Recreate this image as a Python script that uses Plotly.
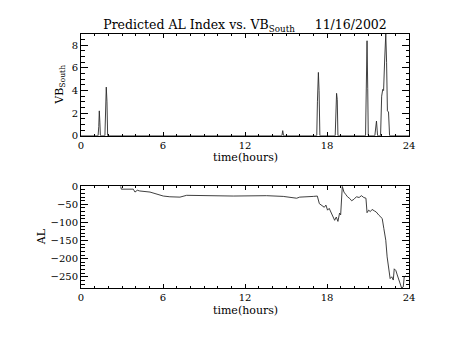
import plotly.graph_objects as go
from plotly.subplots import make_subplots

# Top panel: VB_South (time in hours)
vb_time = [0.0, 1.25, 1.30, 1.34, 1.38, 1.42, 1.75, 1.80, 1.85, 1.90, 1.95,
           14.70, 14.76, 14.82, 17.25, 17.30, 17.37, 17.42, 17.48,
           18.60, 18.65, 18.70, 18.75, 18.80, 20.82, 20.87, 20.93, 20.98, 21.02,
           21.50, 21.55, 21.62, 21.67, 21.70, 21.92, 22.00, 22.08, 22.14, 22.22,
           22.30, 22.36, 22.42, 22.50, 22.58, 24.0]
vb_south = [0, 0, 0.8, 2.2, 1.2, 0, 0, 2.4, 4.3, 3.0, 0,
            0, 0.45, 0, 0, 3.0, 5.6, 4.0, 0,
            0, 2.0, 3.75, 3.2, 0, 0, 6.3, 8.4, 4.2, 0,
            0, 0.7, 1.3, 0.5, 0, 0, 3.5, 4.1, 4.0, 6.7,
            9.0, 6.5, 2.2, 2.1, 0, 0]

# Bottom panel: predicted AL index
al_time = [2.90, 2.95, 3.83, 3.95, 4.12, 4.30, 5.05, 6.02, 6.50, 7.24, 7.73,
           8.70, 11.14, 13.58, 14.80, 15.78, 16.00, 17.00, 17.29, 17.44,
           17.56, 17.68, 17.80, 17.92, 18.04, 18.16, 18.28, 18.56, 18.68,
           18.80, 18.92, 19.00, 19.12, 19.24, 19.36, 19.50, 19.67, 19.80,
           19.97, 20.11, 20.15, 20.35, 20.52, 20.69, 20.85, 20.93, 21.05,
           21.17, 21.30, 21.47, 21.60, 21.80, 22.04, 22.16, 22.30, 22.40,
           22.55, 22.62, 22.74, 22.85, 22.92, 23.04, 23.14, 23.28, 23.46,
           23.58, 23.65, 23.76]
al_index = [0, -8, -8, -16, -11, -13, -16, -27, -29, -30, -25,
            -26, -27, -26, -28, -33, -30, -28, -27, -48,
            -52, -55, -58, -52, -66, -61, -70, -94, -85,
            -97, -74, -79, -0, -16, -22, -29, -34, -40,
            -36, -31, -29, -31, -26, -31, -33, -73, -66,
            -70, -64, -68, -71, -80, -89, -117, -149, -195,
            -241, -255, -250, -259, -228, -233, -245, -262, -281,
            -278, -250, -248]

x_ticks = [0, 6, 12, 18, 24]
vb_ticks = [0, 2, 4, 6, 8]
al_ticks = [0, -50, -100, -150, -200, -250]

FONT = "DejaVu Serif"
BLACK = "#000000"
LINE = "#2a2a2a"

fig = make_subplots(rows=2, cols=1, vertical_spacing=0.199)
fig.add_trace(go.Scatter(x=vb_time, y=vb_south, mode="lines",
                         line=dict(color=LINE, width=0.9), showlegend=False), row=1, col=1)
fig.add_trace(go.Scatter(x=al_time, y=al_index, mode="lines",
                         line=dict(color=LINE, width=0.9), showlegend=False), row=2, col=1)

xcommon = dict(range=[0, 24], tickvals=x_ticks, ticktext=[str(v) for v in x_ticks],
               ticks="inside", ticklen=4, tickwidth=1, tickcolor=BLACK,
               minor=dict(dtick=1, ticks="inside", ticklen=2, tickcolor=BLACK, tick0=0),
               showline=True, linecolor=BLACK, linewidth=1, mirror="allticks",
               showgrid=False, zeroline=False, tickfont=dict(family=FONT, size=10, color=BLACK))
fig.update_xaxes(**xcommon, row=1, col=1)
fig.update_xaxes(**xcommon, row=2, col=1)

ycommon = dict(ticks="inside", ticklen=7, tickwidth=1, tickcolor=BLACK,
               showline=True, linecolor=BLACK, linewidth=1, mirror="allticks",
               showgrid=False, zeroline=False, tickfont=dict(family=FONT, size=10, color=BLACK))
fig.update_yaxes(**ycommon, range=[0, 9.0], tickvals=vb_ticks,
                 minor=dict(dtick=0.5, tick0=0, ticks="inside", ticklen=3.5, tickcolor=BLACK),
                 row=1, col=1)
fig.update_yaxes(**ycommon, range=[-281, 0], tickvals=al_ticks,
                 ticktext=[str(v).replace("-", "\u2212") for v in al_ticks],
                 minor=dict(dtick=10, tick0=0, ticks="inside", ticklen=3.5, tickcolor=BLACK),
                 row=2, col=1)

fig.update_layout(
    width=453, height=340,
    margin=dict(l=73, r=52, t=26, b=60),
    paper_bgcolor="white", plot_bgcolor="white",
    font=dict(family=FONT, color=BLACK, size=10),
    title=dict(text="Predicted AL Index vs. VB<sub>South</sub>     11/16/2002",
               x=0.5, xanchor="center", xref="paper", y=1, yref="paper", yanchor="bottom",
               pad=dict(b=5),
               font=dict(family=FONT, size=12.5, color=BLACK)),
    annotations=[
        dict(text="time(hours)", xref="paper", yref="paper", x=0.5, y=0.6004,
             yshift=-14, yanchor="top", xanchor="center", showarrow=False,
             font=dict(family=FONT, size=11)),
        dict(text="time(hours)", xref="paper", yref="paper", x=0.5, y=0.0,
             yshift=-14, yanchor="top", xanchor="center", showarrow=False,
             font=dict(family=FONT, size=11)),
        dict(text="VB<sub>South</sub>", xref="paper", yref="paper", x=0, xshift=-21,
             xanchor="center", yanchor="middle",
             y=0.8, textangle=-90, showarrow=False, font=dict(family=FONT, size=11)),
        dict(text="AL", xref="paper", yref="paper", x=0, xshift=-40,
             xanchor="center", yanchor="middle",
             y=0.2, textangle=-90, showarrow=False, font=dict(family=FONT, size=11)),
    ],
)

fig.write_html("out.html")
